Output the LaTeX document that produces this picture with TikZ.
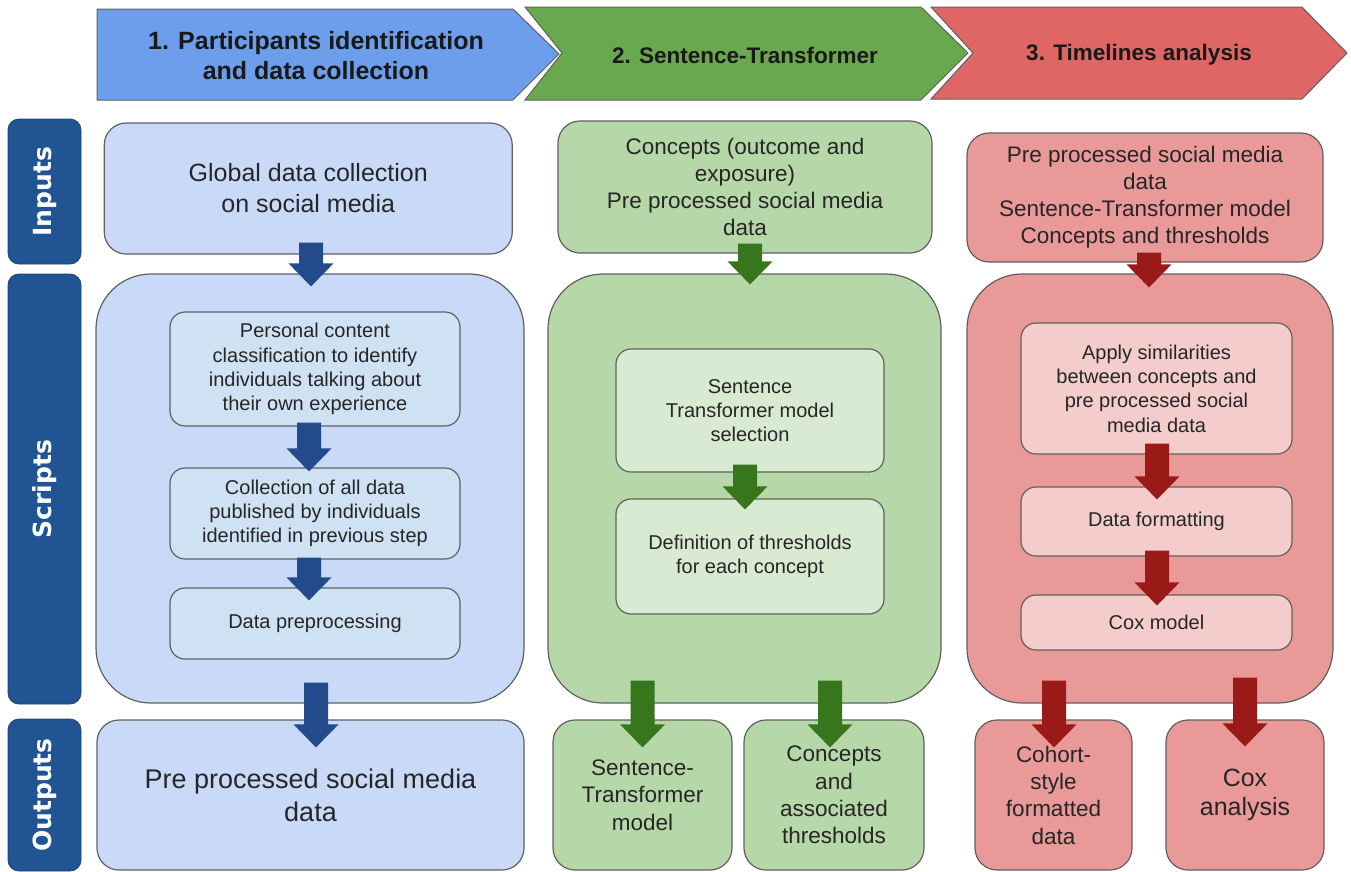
\documentclass[tikz,border=0pt]{standalone}
\usepackage{fontspec}
\setmainfont{Liberation Sans}
\newfontfamily\sidefont{DejaVu Sans}
\usetikzlibrary{calc}
\definecolor{hBlue}{HTML}{6D9EEB}
\definecolor{hGreen}{HTML}{6AA84F}
\definecolor{hRed}{HTML}{E06666}
\definecolor{lBlue}{HTML}{C9DAF8}
\definecolor{iBlue}{HTML}{CFE2F3}
\definecolor{lGreen}{HTML}{B6D7A8}
\definecolor{iGreen}{HTML}{D9EAD3}
\definecolor{lRed}{HTML}{EA9999}
\definecolor{iRed}{HTML}{F4CCCC}
\definecolor{sideBlue}{HTML}{215493}
\definecolor{aBlue}{HTML}{234A8B}
\definecolor{aGreen}{HTML}{38761D}
\definecolor{aRed}{HTML}{9A1A17}
\definecolor{edge}{HTML}{606060}
\newcommand\aw{12pt}
\newcommand\ahw{22.5pt}
\newcommand\ahl{23pt}
\newcommand\blockarrow[3]{%
  \fill[#1] let \p1=(#2), \p2=(#3) in
    (\x2-\aw,\y1) -- (\x2+\aw,\y1) -- (\x2+\aw,\y2+\ahl) -- (\x2+\ahw,\y2+\ahl)
    -- (\x2,\y2) -- (\x2-\ahw,\y2+\ahl) -- (\x2-\aw,\y2+\ahl) -- cycle;}
\tikzset{
  bx/.style={draw=edge, line width=1.2pt, align=center, inner sep=0pt, text=black!85},
  rin/.style={bx, rounded corners=22pt},
  rbig/.style={bx, rounded corners=55pt},
  rinner/.style={bx, rounded corners=15pt},
  hdr/.style={draw=edge, line width=1pt},
  hdrtext/.style={align=center, font=\bfseries\fontsize{22.5}{28}\selectfont, text=black!90},
  side/.style={fill=sideBlue, draw=sideBlue!80!black, line width=0.8pt, rounded corners=11pt, rotate=90,
    minimum height=73pt, inner sep=0pt, text=white, font=\sidefont\bfseries\fontsize{25}{30}\selectfont},
  tIn/.style={font=\fontsize{22.5}{27}\selectfont},
  tInner/.style={font=\fontsize{20}{24.3}\selectfont},
  tOut/.style={font=\fontsize{22.5}{27.3}\selectfont},
}
\begin{document}
\begin{tikzpicture}[x=1pt,y=-1pt]
\useasboundingbox (0,0) rectangle (1351,871);
% headers
\filldraw[hdr, fill=hBlue] (97,9) -- (513,9) -- (559,54) -- (513,100) -- (97,100) -- cycle;
\node[hdrtext, font=\bfseries\fontsize{25}{30}\selectfont] (h1) at (316,56) {1. Participants identification\\and data collection};
\filldraw[hdr, fill=hGreen] (525,7) -- (921,7) -- (968,53) -- (921,100) -- (525,100) -- (562,53) -- cycle;
\node[hdrtext] (h2) at (745,55) {2. Sentence-Transformer};
\filldraw[hdr, fill=hRed] (931,7) -- (1302,7) -- (1347,53) -- (1302,99) -- (931,99) -- (973,53) -- cycle;
\node[hdrtext] (h3) at (1139,55) {3. Timelines analysis};
% side labels
\node[side, minimum width=145pt] (sI) at (44.5,191.5) {Inputs};
\node[side, minimum width=430pt] (sS) at (44.5,489) {Scripts};
\node[side, minimum width=152pt] (sO) at (44.5,795) {Outputs};
% blue column
\node[rin, fill=lBlue, minimum width=408pt, minimum height=131pt, font=\fontsize{25}{31}\selectfont] (bin) at (308.25,188.5) {Global data collection\\on social media};
\node[rbig, fill=lBlue, minimum width=428pt, minimum height=429pt] (bscr) at (310,488.5) {};
\node[rinner, fill=iBlue, minimum width=290pt, minimum height=114pt, tInner] (bi1) at (315,369) {Personal content\\classification to identify\\individuals talking about\\their own experience};
\node[rinner, fill=iBlue, minimum width=290pt, minimum height=91pt, tInner] (bi2) at (315,513.5) {Collection of all data\\published by individuals\\identified in previous step};
\node[rinner, fill=iBlue, minimum width=290pt, minimum height=71pt, tInner] (bi3) at (315,623.5) {Data preprocessing};
\node[rin, fill=lBlue, minimum width=427pt, minimum height=150pt, font=\fontsize{27}{33}\selectfont] (bout) at (310.5,795) {Pre processed social media\\data};
% green column
\node[rin, fill=lGreen, minimum width=374pt, minimum height=132pt, tIn] (gin) at (745,187) {Concepts (outcome and\\exposure)\\Pre processed social media\\data};
\node[rbig, fill=lGreen, minimum width=393pt, minimum height=429pt] (gscr) at (744.5,488.5) {};
\node[rinner, fill=iGreen, minimum width=268pt, minimum height=123pt, tInner] (gi1) at (750,410.5) {Sentence\\Transformer model\\selection};
\node[rinner, fill=iGreen, minimum width=268pt, minimum height=115pt, tInner] (gi2) at (750,556.5) {Definition of thresholds\\for each concept};
\node[rin, fill=lGreen, minimum width=179pt, minimum height=150pt, tOut] (gout1) at (642.5,795) {Sentence-\\Transformer\\model};
\node[rin, fill=lGreen, minimum width=180pt, minimum height=150pt, tOut] (gout2) at (834,795) {Concepts\\and\\associated\\thresholds};
% red column
\node[rin, fill=lRed, minimum width=356pt, minimum height=129pt, tIn] (rin) at (1145,197.5) {Pre processed social media\\data\\Sentence-Transformer model\\Concepts and thresholds};
\node[rbig, fill=lRed, minimum width=366pt, minimum height=429pt] (rscr) at (1150,488.5) {};
\node[rinner, fill=iRed, minimum width=271pt, minimum height=131pt, tInner] (ri1) at (1156.5,388.5) {Apply similarities\\between concepts and\\pre processed social\\media data};
\node[rinner, fill=iRed, minimum width=271pt, minimum height=69pt, tInner] (ri2) at (1156.5,521.5) {Data formatting};
\node[rinner, fill=iRed, minimum width=271pt, minimum height=55pt, tInner] (ri3) at (1156.5,622.5) {Cox model};
\node[rin, fill=lRed, minimum width=157pt, minimum height=150pt, tOut] (rout1) at (1053.5,795) {Cohort-\\style\\formatted\\data};
\node[rin, fill=lRed, minimum width=158pt, minimum height=150pt, font=\fontsize{25}{29.5}\selectfont] (rout2) at (1245,795) {Cox\\analysis};
% blue arrows
\blockarrow{aBlue}{$(bin.south)+(0,-12)$}{$(bscr.north)+(1,13)$}
\blockarrow{aBlue}{$(bi1.south)+(0,-4)$}{$(bi2.north)+(-6,4)$}
\blockarrow{aBlue}{$(bi2.south)+(0,-2)$}{$(bi3.north)+(-6,13)$}
\blockarrow{aBlue}{$(bscr.south)+(0,-21)$}{$(bout.north)+(5.5,28)$}
% green arrows
\blockarrow{aGreen}{$(gin.south)+(0,-10)$}{$(gscr.north)+(5.5,11)$}
\blockarrow{aGreen}{$(gi1.south)+(0,-8)$}{$(gi2.north)+(-5,11)$}
\blockarrow{aGreen}{$(gscr.south)+(0,-23)$}{$(gout1.north)+(0,28)$}
\blockarrow{aGreen}{$(gscr.south)+(0,-23)$}{$(gout2.north)+(-4,28)$}
% red arrows
\blockarrow{aRed}{$(rin.south)+(0,-10)$}{$(rscr.north)+(-1,14)$}
\blockarrow{aRed}{$(ri1.south)+(0,-11)$}{$(ri2.north)+(0.5,13)$}
\blockarrow{aRed}{$(ri2.south)+(0,-6)$}{$(ri3.north)+(0.5,11)$}
\blockarrow{aRed}{$(rscr.south)+(0,-23)$}{$(rout1.north)+(0.5,28)$}
\blockarrow{aRed}{$(rscr.south)+(0,-26)$}{$(rout2.north)+(0,27)$}
\end{tikzpicture}
\end{document}
